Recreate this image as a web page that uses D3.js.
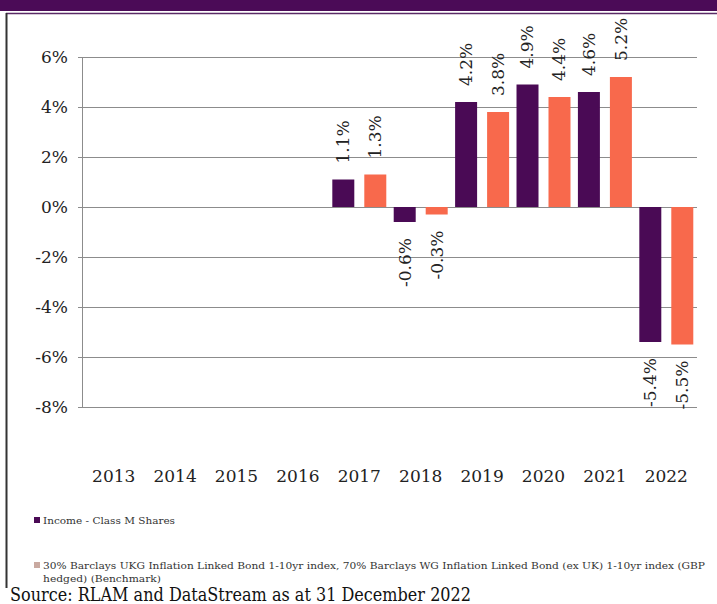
<!DOCTYPE html>
<html>
<head>
<meta charset="utf-8">
<script src="https://cdn.jsdelivr.net/npm/d3@7"></script>
<style>
  body { margin: 0; background: #fff; }
  svg { display: block; }
  svg text { font-family: 'DejaVu Serif', 'Liberation Serif', serif; }
</style>
</head>
<body>
<script>
let width = 717;
let height = 604;

// data
let years = ['2013', '2014', '2015', '2016', '2017', '2018', '2019', '2020', '2021', '2022'];
let series = ['Income - Class M Shares', 'Benchmark'];
let fundValues = [null, null, null, null, 1.1, -0.6, 4.2, 4.9, 4.6, -5.4];
let benchValues = [null, null, null, null, 1.3, -0.3, 3.8, 4.4, 5.2, -5.5];
let yTicks = [6, 4, 2, 0, -2, -4, -6, -8];
let legendLines = [
  'Income - Class M Shares',
  '30% Barclays UKG  Inflation Linked Bond 1-10yr index, 70% Barclays WG Inflation Linked Bond (ex UK) 1-10yr index (GBP',
  'hedged) (Benchmark)'
];
let sourceText = 'Source: RLAM and DataStream as at 31 December 2022';

let colours = ['#4a0a55', '#f8694c'];

let svg = d3.select('body').append('svg')
  .attr('width', width)
  .attr('height', height);

// frame
svg.append('rect').attr('x', 0).attr('y', 0).attr('width', width).attr('height', 11).attr('fill', '#4b0b57');
svg.append('line').attr('x1', 6).attr('x2', width).attr('y1', 13.5).attr('y2', 13.5).attr('stroke', '#5a2a66').attr('stroke-width', 1.5);
svg.append('line').attr('x1', 6.5).attr('x2', 6.5).attr('y1', 13).attr('y2', 588).attr('stroke', '#333').attr('stroke-width', 2);

let x = d3.scaleBand().domain(years).range([83, 697]).padding(0);
let x1 = d3.scaleBand().domain(series).range([0, x.bandwidth()]).paddingInner(0.3125).paddingOuter(0.116);
let y = d3.scaleLinear().domain([-8, 6]).range([407, 57]);

// gridlines
svg.append('g')
  .selectAll('line')
  .data(yTicks)
  .join('line')
  .attr('x1', 78)
  .attr('x2', 697)
  .attr('y1', (d) => Math.round(y(d)) + 0.5)
  .attr('y2', (d) => Math.round(y(d)) + 0.5)
  .attr('stroke', '#8c8c8c')
  .attr('stroke-width', 1);

// y axis line
svg.append('line')
  .attr('x1', 82.5).attr('x2', 82.5)
  .attr('y1', y(6)).attr('y2', y(-8))
  .attr('stroke', '#8c8c8c');

// y labels
svg.append('g')
  .selectAll('text')
  .data(yTicks)
  .join('text')
  .attr('x', 68)
  .attr('y', (d) => y(d))
  .attr('dy', '0.35em')
  .attr('text-anchor', 'end')
  .attr('font-size', 17)
  .attr('fill', '#222')
  .text((d) => d + '%');

// year labels
svg.append('g')
  .selectAll('text')
  .data(years)
  .join('text')
  .attr('x', (d) => x(d) + x.bandwidth() / 2)
  .attr('y', 482)
  .attr('text-anchor', 'middle')
  .attr('font-size', 17)
  .attr('fill', '#222')
  .text((d) => d);

// bars
let rows = [];
years.forEach((yr, i) => {
  if (fundValues[i] !== null) rows.push({ year: yr, s: series[0], v: fundValues[i], c: colours[0] });
  if (benchValues[i] !== null) rows.push({ year: yr, s: series[1], v: benchValues[i], c: colours[1] });
});

svg.append('g')
  .selectAll('rect')
  .data(rows)
  .join('rect')
  .attr('x', (d) => x(d.year) + x1(d.s))
  .attr('width', x1.bandwidth())
  .attr('y', (d) => y(Math.max(0, d.v)))
  .attr('height', (d) => Math.abs(y(d.v) - y(0)))
  .attr('fill', (d) => d.c);

// value labels, rotated
svg.append('g')
  .selectAll('text')
  .data(rows)
  .join('text')
  .attr('transform', (d) => {
    let cx = x(d.year) + x1(d.s) + x1.bandwidth() / 2;
    let cy = d.v >= 0 ? y(d.v) - 16 : y(d.v) + 16;
    return `translate(${cx},${cy}) rotate(-90)`;
  })
  .attr('dy', '0.35em')
  .attr('text-anchor', (d) => d.v >= 0 ? 'start' : 'end')
  .attr('font-size', 17)
  .attr('fill', '#222')
  .text((d) => d.v.toFixed(1) + '%');

// legend
svg.append('rect').attr('x', 34).attr('y', 517).attr('width', 6).attr('height', 6).attr('fill', colours[0]);
svg.append('rect').attr('x', 34).attr('y', 562).attr('width', 6).attr('height', 6).attr('fill', '#c9a9a0');

svg.append('text').attr('x', 43).attr('y', 524).attr('font-size', 10).attr('fill', '#333')
  .attr('textLength', 132).attr('lengthAdjust', 'spacingAndGlyphs').text(legendLines[0]);
svg.append('text').attr('x', 43).attr('y', 569).attr('font-size', 10).attr('fill', '#333')
  .attr('textLength', 662).attr('lengthAdjust', 'spacingAndGlyphs').text(legendLines[1]);
svg.append('text').attr('x', 43).attr('y', 582).attr('font-size', 10).attr('fill', '#333')
  .attr('textLength', 118).attr('lengthAdjust', 'spacingAndGlyphs').text(legendLines[2]);

// source
svg.append('text').attr('x', 10).attr('y', 601).attr('font-size', 18).attr('fill', '#111')
  .attr('textLength', 461).attr('lengthAdjust', 'spacingAndGlyphs').text(sourceText);
</script>
</body>
</html>
